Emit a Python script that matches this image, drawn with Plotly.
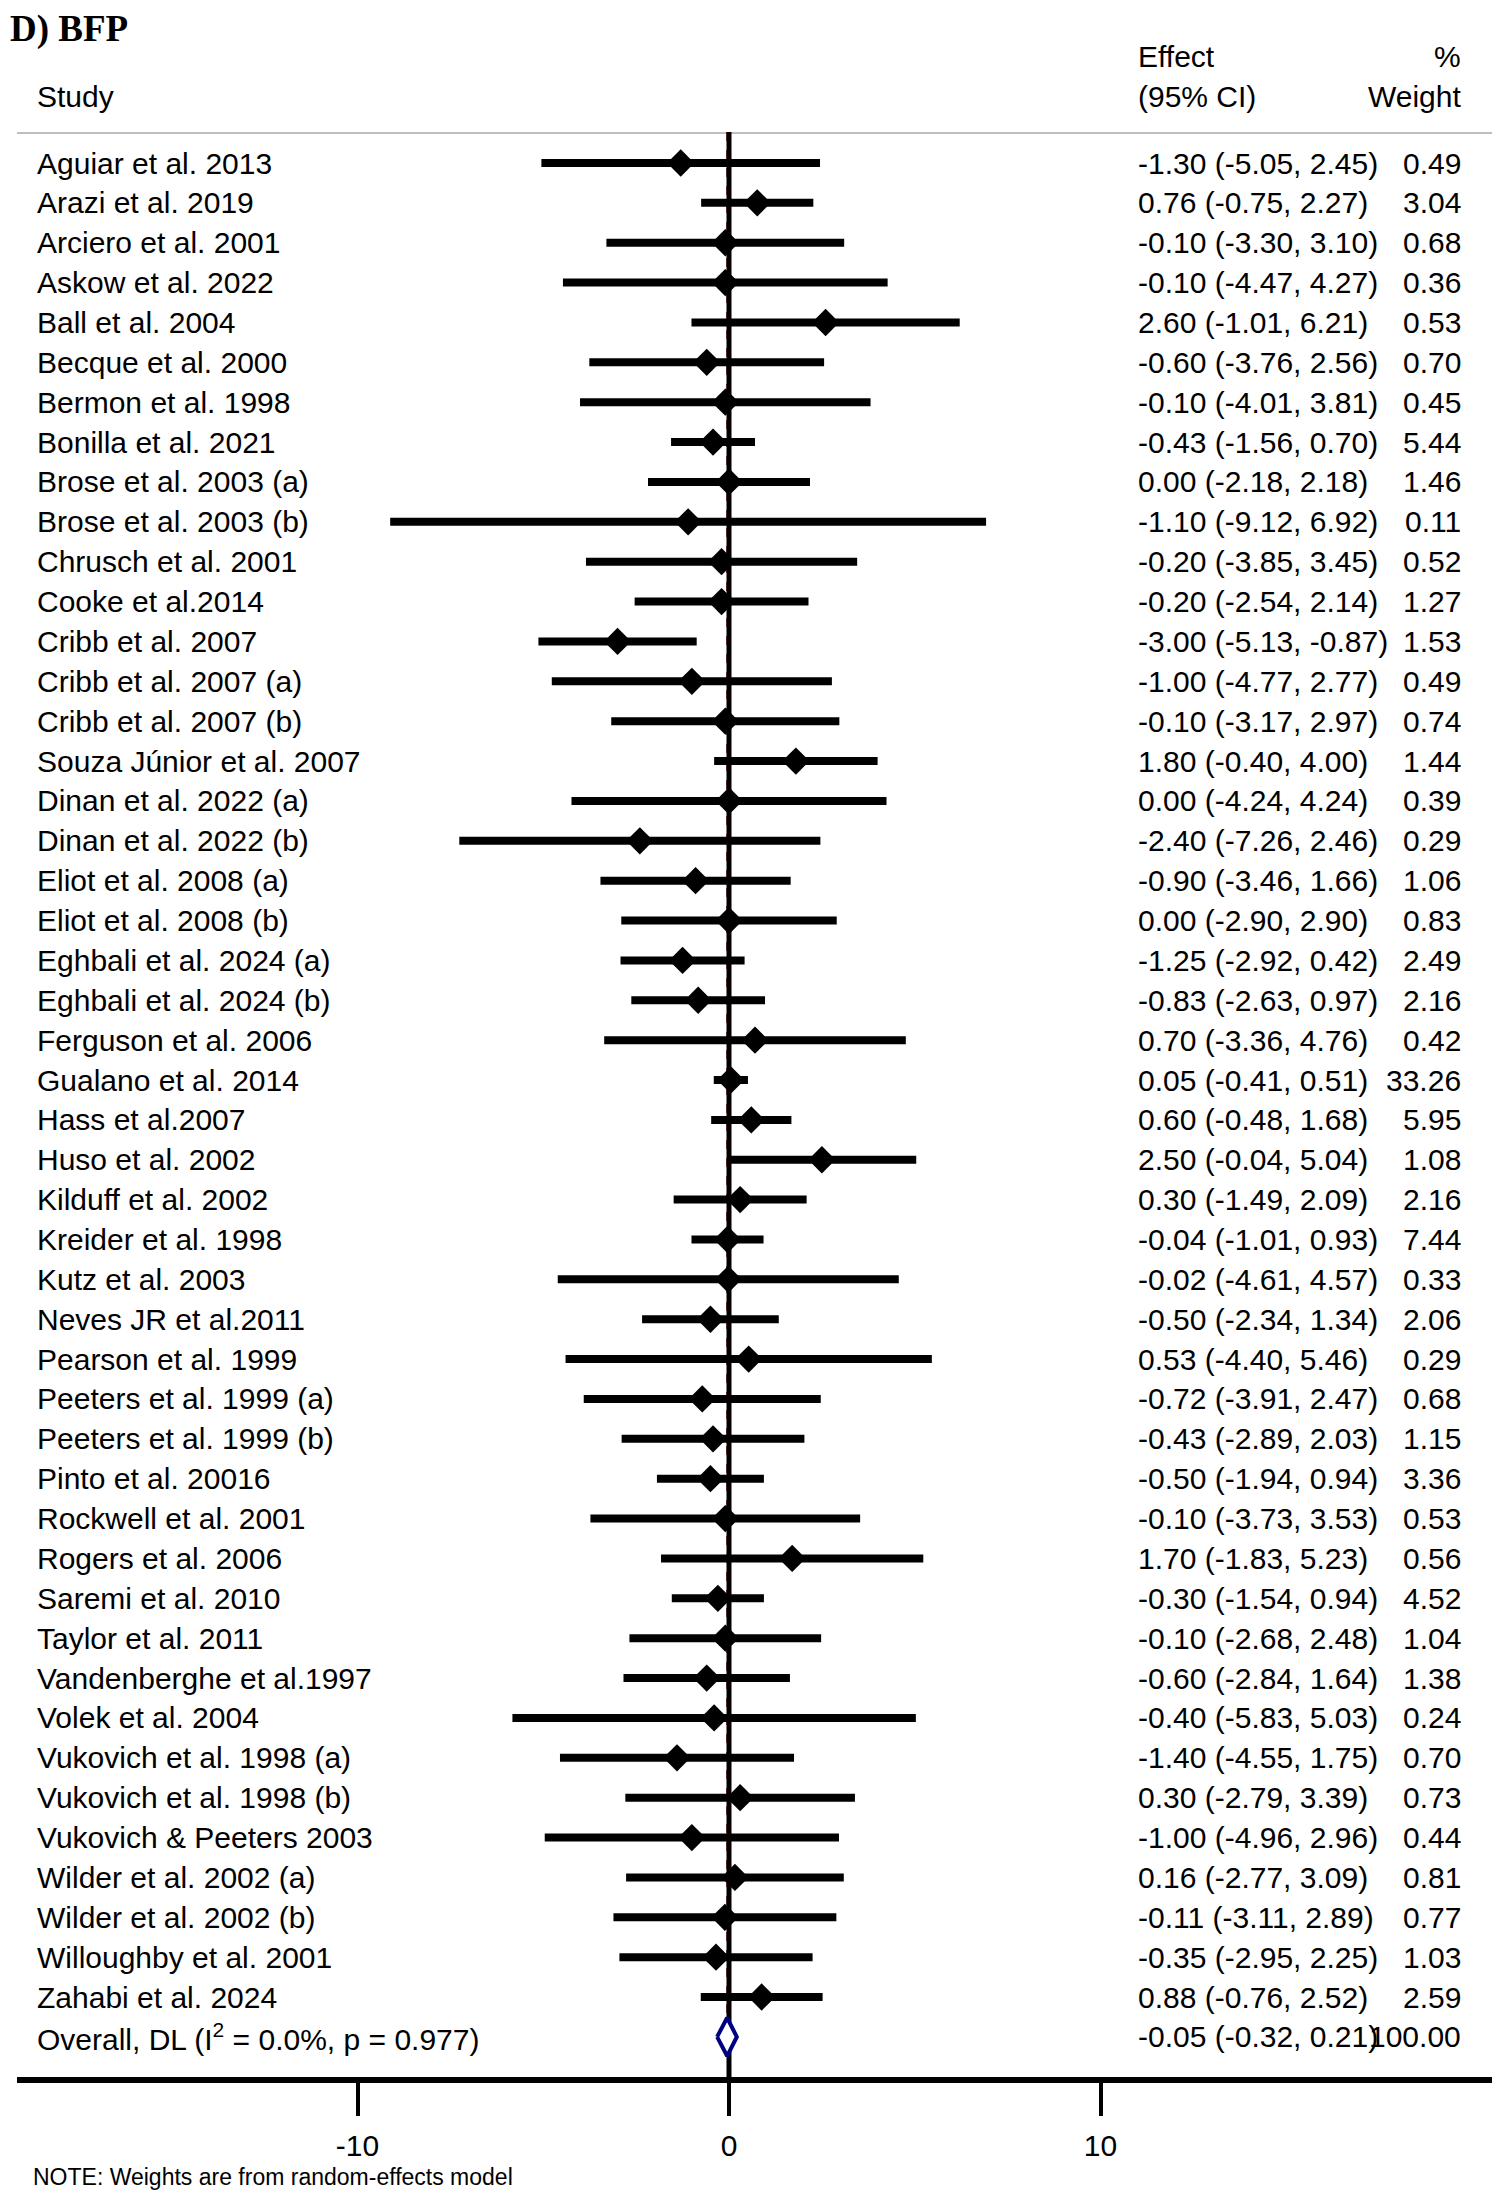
import plotly.graph_objects as go

# 研究名称与效应量 (BFP)
studies = [
    'Aguiar et al. 2013', 'Arazi et al. 2019', 'Arciero et al. 2001', 'Askow et al. 2022',
    'Ball et al. 2004', 'Becque et al. 2000', 'Bermon et al. 1998', 'Bonilla et al. 2021',
    'Brose et al. 2003 (a)', 'Brose et al. 2003 (b)', 'Chrusch et al. 2001', 'Cooke et al.2014',
    'Cribb et al. 2007', 'Cribb et al. 2007 (a)', 'Cribb et al. 2007 (b)', 'Souza Júnior et al. 2007',
    'Dinan et al. 2022 (a)', 'Dinan et al. 2022 (b)', 'Eliot et al. 2008 (a)', 'Eliot et al. 2008 (b)',
    'Eghbali et al. 2024 (a)', 'Eghbali et al. 2024 (b)', 'Ferguson et al. 2006', 'Gualano et al. 2014',
    'Hass et al.2007', 'Huso et al. 2002', 'Kilduff et al. 2002', 'Kreider et al. 1998',
    'Kutz et al. 2003', 'Neves JR et al.2011', 'Pearson et al. 1999', 'Peeters et al. 1999 (a)',
    'Peeters et al. 1999 (b)', 'Pinto et al. 20016', 'Rockwell et al. 2001', 'Rogers et al. 2006',
    'Saremi et al. 2010', 'Taylor et al. 2011', 'Vandenberghe et al.1997', 'Volek et al. 2004',
    'Vukovich et al. 1998 (a)', 'Vukovich et al. 1998 (b)', 'Vukovich & Peeters 2003', 'Wilder et al. 2002 (a)',
    'Wilder et al. 2002 (b)', 'Willoughby et al. 2001', 'Zahabi et al. 2024',
]
effect = [
    -1.30, 0.76, -0.10, -0.10, 2.60, -0.60, -0.10, -0.43, 0.00, -1.10, -0.20, -0.20,
    -3.00, -1.00, -0.10, 1.80, 0.00, -2.40, -0.90, 0.00, -1.25, -0.83, 0.70, 0.05,
    0.60, 2.50, 0.30, -0.04, -0.02, -0.50, 0.53, -0.72, -0.43, -0.50, -0.10, 1.70,
    -0.30, -0.10, -0.60, -0.40, -1.40, 0.30, -1.00, 0.16, -0.11, -0.35, 0.88,
]
ci_low = [
    -5.05, -0.75, -3.30, -4.47, -1.01, -3.76, -4.01, -1.56, -2.18, -9.12, -3.85, -2.54,
    -5.13, -4.77, -3.17, -0.40, -4.24, -7.26, -3.46, -2.90, -2.92, -2.63, -3.36, -0.41,
    -0.48, -0.04, -1.49, -1.01, -4.61, -2.34, -4.40, -3.91, -2.89, -1.94, -3.73, -1.83,
    -1.54, -2.68, -2.84, -5.83, -4.55, -2.79, -4.96, -2.77, -3.11, -2.95, -0.76,
]
ci_high = [
    2.45, 2.27, 3.10, 4.27, 6.21, 2.56, 3.81, 0.70, 2.18, 6.92, 3.45, 2.14,
    -0.87, 2.77, 2.97, 4.00, 4.24, 2.46, 1.66, 2.90, 0.42, 0.97, 4.76, 0.51,
    1.68, 5.04, 2.09, 0.93, 4.57, 1.34, 5.46, 2.47, 2.03, 0.94, 3.53, 5.23,
    0.94, 2.48, 1.64, 5.03, 1.75, 3.39, 2.96, 3.09, 2.89, 2.25, 2.52,
]
weights = [
    0.49, 3.04, 0.68, 0.36, 0.53, 0.70, 0.45, 5.44, 1.46, 0.11, 0.52, 1.27,
    1.53, 0.49, 0.74, 1.44, 0.39, 0.29, 1.06, 0.83, 2.49, 2.16, 0.42, 33.26,
    5.95, 1.08, 2.16, 7.44, 0.33, 2.06, 0.29, 0.68, 1.15, 3.36, 0.53, 0.56,
    4.52, 1.04, 1.38, 0.24, 0.70, 0.73, 0.44, 0.81, 0.77, 1.03, 2.59,
]
overall_label = 'Overall, DL (I<sup>2</sup> = 0.0%, p = 0.977)'
overall = [-0.05, -0.32, 0.21]   # 效应, 下限, 上限
overall_weight = 100.00
x_ticks = [-10, 0, 10]

# 目标画面像素（1500x2200），页面 body 有 8px 边距，这里整体扣掉
OFF = 8
W, H = 1500 - OFF, 2200 - 2 * OFF
PL, PR, PT, PB = 17, 1500, 132, 2077
FONT = 'Liberation Sans, Arial, sans-serif'
ROW0, ROW_H = 163, 39.87
ZERO_PX, PX_PER_10 = 729, 371.5


def px(p):
    return (p - PL) / (PR - PL)


def py(p):
    return (PB - p) / (PB - PT)


n = len(studies)
rows = list(range(n))
ov_row = n
half_h = 0.48

fig = go.Figure()

# 置信区间横线
cx, cy = [], []
for i in rows:
    cx += [ci_low[i], ci_high[i], None]
    cy += [i, i, None]
fig.add_trace(go.Scatter(x=cx, y=cy, mode='lines', line=dict(color='black', width=8),
                         hoverinfo='skip', showlegend=False))

# 点估计
fig.add_trace(go.Scatter(x=effect, y=rows, mode='markers',
                         marker=dict(symbol='diamond', size=21, color='black', line=dict(width=0)),
                         showlegend=False))

# 合并效应菱形
es, lo, hi = overall
fig.add_trace(go.Scatter(x=[lo, es, hi, es, lo], y=[ov_row, ov_row - half_h, ov_row, ov_row + half_h, ov_row],
                         mode='lines', fill='toself', fillcolor='white',
                         line=dict(color='#000080', width=4), showlegend=False))

y_top = (PT - ROW0) / ROW_H
y_bot = (PB - ROW0) / ROW_H

shapes = [
    dict(type='line', xref='paper', yref='y', x0=0, x1=1, y0=y_top, y1=y_top,
         line=dict(color='#BEBEBE', width=4), layer='below'),
    dict(type='line', xref='x', yref='y', x0=es, x1=es, y0=y_top, y1=ov_row + half_h,
         line=dict(color='#9B2A2A', width=2, dash='dash'), layer='below'),
    dict(type='line', xref='x', yref='y', x0=0, x1=0, y0=y_top, y1=y_bot,
         line=dict(color='black', width=5), layer='below'),
]

ann = []


def txt(text, x, y, xanchor='left', yref='y', size=30, family=FONT):
    ann.append(dict(text=text, x=x, y=y, xref='paper', yref=yref, xanchor=xanchor, yanchor='middle',
                    showarrow=False, font=dict(family=family, size=size, color='black')))


txt('<b>D) BFP</b>', px(OFF), py(29), yref='paper', size=37,
    family='Liberation Serif, Times New Roman, serif')
txt('Effect', px(1136), py(57), yref='paper')
txt('(95% CI)', px(1136), py(97), yref='paper')
txt('%', px(1463), py(57), xanchor='right', yref='paper')
txt('Weight', px(1463), py(97), xanchor='right', yref='paper')
txt('Study', px(35), py(97), yref='paper')

for i in rows:
    txt(studies[i], px(35), i)
    txt(f'{effect[i]:.2f} ({ci_low[i]:.2f}, {ci_high[i]:.2f})', px(1136), i)
    txt(f'{weights[i]:.2f}', px(1463), i, xanchor='right')

txt(overall_label, px(35), ov_row)
txt(f'{es:.2f} ({lo:.2f}, {hi:.2f})', px(1136), ov_row)
txt(f'{overall_weight:.2f}', px(1463), ov_row, xanchor='right')
txt('NOTE: Weights are from random-effects model', px(31), py(2177), yref='paper', size=23)

x_per_px = 10 / PX_PER_10
fig.update_layout(
    width=W, height=H,
    margin=dict(l=PL - OFF, r=0, t=PT - OFF, b=H - (PB - OFF), pad=0),
    paper_bgcolor='white', plot_bgcolor='white',
    shapes=shapes, annotations=ann, showlegend=False,
    font=dict(family=FONT, color='black'),
)
fig.update_xaxes(range=[(PL - ZERO_PX) * x_per_px, (PR - ZERO_PX) * x_per_px],
                 tickvals=x_ticks, ticktext=[str(t) for t in x_ticks],
                 ticks='outside', ticklen=33, tickwidth=4, tickcolor='black',
                 showline=True, linewidth=6, linecolor='black',
                 showgrid=False, zeroline=False, tickfont=dict(size=30, family=FONT),
                 ticklabelstandoff=4)
fig.update_yaxes(range=[y_bot, y_top], visible=False, showgrid=False, zeroline=False)

fig.write_html('out.html')
